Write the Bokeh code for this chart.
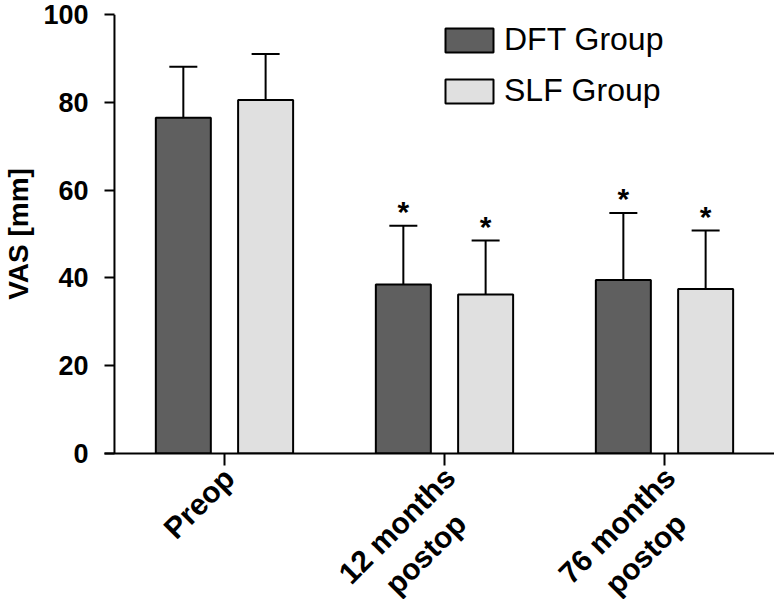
import numpy as np
from bokeh.plotting import figure
from bokeh.layouts import column
from bokeh.models import (ColumnDataSource, Range1d, FixedTicker, Whisker, TeeHead,
                          Legend, LegendItem, Span)
from bokeh.core.properties import value
from bokeh.embed import file_html
from bokeh.resources import INLINE

# ---- data ----
categories = ["Preop", "12 months\npostop", "76 months\npostop"]
groups = ["DFT Group", "SLF Group"]
dft_mean = [76.5, 38.5, 39.5]
dft_sd = [11.6, 13.4, 15.3]
slf_mean = [80.5, 36.2, 37.5]
slf_sd = [10.5, 12.3, 13.3]
dft_sig = ["", "*", "*"]
slf_sig = ["", "*", "*"]
y_ticks = [0, 20, 40, 60, 80, 100]

FONT = "Liberation Sans"
pos = np.arange(1, len(categories) + 1)
off = 0.187
bw = 0.25

src_dft = ColumnDataSource(dict(x=pos - off, top=dft_mean,
                                upper=np.array(dft_mean) + np.array(dft_sd), sig=dft_sig))
src_slf = ColumnDataSource(dict(x=pos + off, top=slf_mean,
                                upper=np.array(slf_mean) + np.array(slf_sd), sig=slf_sig))

xr = Range1d(0.4547, 3.5)
p = figure(width=774, height=470, x_range=xr, y_range=Range1d(0, 100),
           output_backend="svg", toolbar_location=None,
           min_border_left=102, min_border_right=0, min_border_top=14, min_border_bottom=17)
p.outline_line_color = None
p.xgrid.grid_line_color = None
p.ygrid.grid_line_color = None
p.background_fill_color = "white"

r1 = p.vbar(x="x", top="top", width=bw, source=src_dft, fill_color="#5f5f5f",
            line_color="black", line_width=2)
r2 = p.vbar(x="x", top="top", width=bw, source=src_slf, fill_color="#e0e0e0",
            line_color="black", line_width=2)

for src in (src_dft, src_slf):
    w = Whisker(source=src, base="x", lower="top", upper="upper", line_width=2,
                line_color="black",
                upper_head=TeeHead(size=28, line_width=2, line_color="black"),
                lower_head=None)
    p.add_layout(w)
    p.text(x="x", y="upper", text="sig", source=src, text_font=value(FONT),
           text_font_style="bold", text_font_size="30px", text_align="center",
           text_baseline="alphabetic", y_offset=-14, text_color="black")

# y axis line drawn at the category-axis start
p.add_layout(Span(location=0.5, dimension="height", line_width=2, line_color="black"))

ya = p.yaxis[0]
ya.ticker = FixedTicker(ticks=y_ticks)
ya.axis_line_color = None
ya.major_tick_in = 10
ya.major_tick_out = 0
ya.major_tick_line_width = 2
ya.minor_tick_line_color = None
ya.major_label_text_font = FONT
ya.major_label_text_font_style = "bold"
ya.major_label_text_font_size = "27px"
ya.major_label_text_color = "black"
ya.major_label_standoff = 16
ya.axis_label = "VAS [mm]"
ya.axis_label_text_font = FONT
ya.axis_label_text_font_style = "bold"
ya.axis_label_text_font_size = "28px"
ya.axis_label_text_color = "black"
ya.axis_label_standoff = 6

xa = p.xaxis[0]
xa.ticker = FixedTicker(ticks=[float(v) for v in pos])
xa.major_label_overrides = {float(k): "" for k in pos}
xa.major_label_text_font_size = "0px"
xa.major_label_standoff = 0
xa.axis_line_width = 2
xa.major_tick_out = 12
xa.major_tick_in = 0
xa.major_tick_line_width = 2
xa.minor_tick_line_color = None

legend = Legend(items=[LegendItem(label=groups[0], renderers=[r1]),
                       LegendItem(label=groups[1], renderers=[r2])],
                location=(335, 344), glyph_width=60, glyph_height=30,
                label_text_font=FONT, label_text_font_size="32px", label_standoff=5,
                label_text_color="black",
                spacing=14, padding=0, margin=0, border_line_color=None,
                background_fill_alpha=0)
p.add_layout(legend)

# ---- strip below the axis holding the rotated, centred category labels ----
XFS = 30
p2 = figure(width=774, height=129, x_range=xr, y_range=Range1d(0, 1),
            output_backend="svg", toolbar_location=None,
            x_axis_location=None, y_axis_location=None,
            min_border_left=102, min_border_right=0, min_border_top=0, min_border_bottom=0)
p2.outline_line_color = None
p2.xgrid.grid_line_color = None
p2.ygrid.grid_line_color = None

half = [0.7071 * max(len(s) for s in c.split("\n")) * 0.52 * XFS / 2 for c in categories]
p2.text(x=[float(v) for v in pos], y=1, text=categories,
        x_offset=[-9.6 - d for d in half], y_offset=[d - 6.5 for d in half],
        angle=np.pi / 4, text_align="center", text_baseline="top",
        text_font=value(FONT), text_font_style="bold", text_font_size=f"{XFS}px",
        text_line_height=1.22, text_color="black")

layout = column(p, p2, spacing=0)
open("out.html", "w").write(file_html(layout, INLINE))
